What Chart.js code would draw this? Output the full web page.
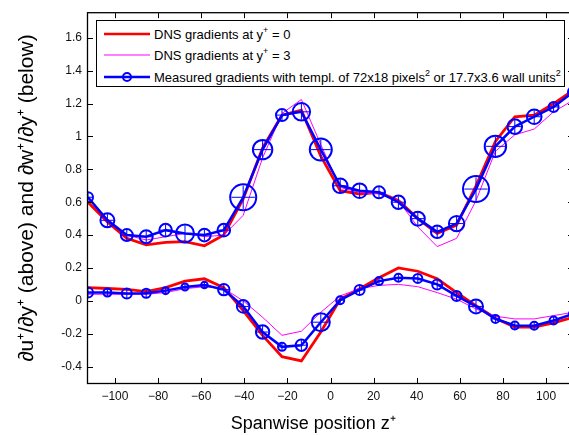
<!DOCTYPE html>
<html>
<head>
<meta charset="utf-8">
<script src="https://cdn.jsdelivr.net/npm/chart.js@4/dist/chart.umd.min.js"></script>
<style>
  html, body { margin: 0; padding: 0; background: #fff; overflow: hidden; }
  #wrap { position: relative; width: 575px; height: 435px; }
  #legend {
    position: absolute; left: 96px; top: 20px; width: 469px; height: 67px;
    border: 1px solid #000; background: #fff; box-sizing: border-box;
    font: 13px "Liberation Sans", Arial, sans-serif; color: #000;
  }
  .row { position: absolute; left: 7px; height: 16px; display: flex; align-items: center; white-space: nowrap; }
  .row svg { margin-right: 4px; }
  sup { font-size: 9px; line-height: 0; vertical-align: 6px; }
</style>
</head>
<body>
<div id="wrap">
  <canvas id="c" width="575" height="435"></canvas>
  <div id="legend">
    <div class="row" style="top:5px"><svg width="46" height="10"><line x1="0" y1="5" x2="46" y2="5" stroke="#ff0000" stroke-width="2.5"/></svg><span>DNS gradients at y<sup>+</sup> = 0</span></div>
    <div class="row" style="top:26px"><svg width="46" height="10"><line x1="0" y1="5" x2="46" y2="5" stroke="#ff00ff" stroke-width="1"/></svg><span>DNS gradients at y<sup>+</sup> = 3</span></div>
    <div class="row" style="top:48px"><svg width="46" height="12"><line x1="0" y1="6" x2="46" y2="6" stroke="#0000ff" stroke-width="2.5"/><circle cx="23" cy="6" r="4" fill="none" stroke="#0000ff" stroke-width="2"/></svg><span>Measured gradients with templ. of 72x18 pixels<sup>2</sup> or 17.7x3.6 wall units<sup>2</sup></span></div>
  </div>
</div>
<script>
// spanwise positions of the interrogation windows
const Z = [-112.5, -103.5, -94.5, -85.5, -76.5, -67.5, -58.5, -49.5, -40.5, -31.5, -22.5, -13.5, -4.5,
    4.5, 13.5, 22.5, 31.5, 40.5, 49.5, 58.5, 67.5, 76.5, 85.5, 94.5, 103.5, 112.5];

// du+/dy+ (upper group)
const DUDY_DNS0 = [0.60, 0.48, 0.38, 0.34, 0.355, 0.36, 0.335, 0.40, 0.62, 0.93, 1.13, 1.16, 0.88,
    0.67, 0.65, 0.66, 0.61, 0.50, 0.41, 0.46, 0.70, 0.97, 1.12, 1.13, 1.20, 1.28];
const DUDY_DNS3 = [0.63, 0.50, 0.40, 0.37, 0.39, 0.41, 0.39, 0.40, 0.52, 0.87, 1.14, 1.225, 0.95,
    0.69, 0.66, 0.65, 0.61, 0.45, 0.33, 0.38, 0.61, 0.91, 1.01, 1.045, 1.15, 1.22];
const DUDY_MEAS = [0.63, 0.49, 0.40, 0.39, 0.43, 0.41, 0.40, 0.43, 0.63, 0.92, 1.13, 1.15, 0.92,
    0.70, 0.67, 0.66, 0.60, 0.50, 0.42, 0.47, 0.68, 0.94, 1.06, 1.12, 1.18, 1.27];
const DUDY_SPREAD = [5, 7, 6, 6.5, 6.3, 9, 6.3, 6.3, 13, 9.7, 6, 8.7, 11,
    7.3, 7.3, 6, 6.7, 7, 6.3, 7.7, 13, 10.7, 7.3, 7.3, 5, 5];

// dw+/dy+ (lower group)
const DWDY_DNS0 = [0.08, 0.075, 0.07, 0.056, 0.08, 0.12, 0.134, 0.08, -0.06, -0.21, -0.34, -0.366, -0.19,
    0.01, 0.074, 0.14, 0.20, 0.18, 0.134, 0.05, -0.03, -0.106, -0.16, -0.16, -0.134, -0.10];
const DWDY_DNS3 = [0.04, 0.04, 0.04, 0.04, 0.05, 0.074, 0.086, 0.075, 0.0, -0.10, -0.21, -0.185, -0.07,
    0.03, 0.074, 0.094, 0.10, 0.086, 0.05, 0.01, -0.05, -0.094, -0.11, -0.11, -0.09, -0.07];
const DWDY_MEAS = [0.05, 0.05, 0.044, 0.046, 0.062, 0.084, 0.096, 0.068, -0.034, -0.19, -0.28, -0.27, -0.13,
    0.004, 0.066, 0.12, 0.14, 0.136, 0.10, 0.03, -0.034, -0.11, -0.15, -0.152, -0.12, -0.08];
const DWDY_SPREAD = [5, 4, 5, 4.5, 3.5, 3.5, 3.3, 5.7, 6.3, 6.7, 4, 5.7, 9,
    4, 5, 4, 4, 4.5, 5, 5, 7, 4, 4, 4, 4, 4];

const X_TICKS = [-100, -80, -60, -40, -20, 0, 20, 40, 60, 80, 100];
const Y_TICKS = [-0.4, -0.2, 0, 0.2, 0.4, 0.6, 0.8, 1, 1.2, 1.4, 1.6];
const X_TITLE = 'Spanwise position z\u207A';

const pts = (ys) => ys.map((y, i) => ({ x: Z[i], y }));

const dnsLine = (data, color, width, order) => ({
    data: pts(data), borderColor: color, borderWidth: width, pointRadius: 0,
    fill: false, tension: 0, order, clip: 0,
});
const measLine = (data, radii) => ({
    data: pts(data), borderColor: '#0000ff', borderWidth: 2.5, pointRadius: radii,
    pointBorderWidth: 2, pointBorderColor: '#0000ff', pointBackgroundColor: 'rgba(0,0,0,0)',
    pointStyle: 'circle', fill: false, tension: 0, order: 1, clip: 0,
});
const measCross = (data, radii) => ({
    data: pts(data), showLine: false, pointStyle: 'cross', pointRadius: radii.map((r) => r * 0.9),
    pointBorderWidth: 1, pointBorderColor: '#0000ff', order: 0, clip: 0,
});

// MATLAB style box with inward ticks, plus the x label (sits a bit left of centre in the original)
const boxPlugin = {
    id: 'box',
    afterDatasetsDraw(chart) {
        const { ctx, chartArea: a, scales } = chart;
        const len = 5;
        ctx.save();
        ctx.strokeStyle = '#000';
        ctx.lineWidth = 1;
        ctx.beginPath();
        X_TICKS.forEach((v) => {
            const x = Math.round(scales.x.getPixelForValue(v)) + 0.5;
            ctx.moveTo(x, a.bottom); ctx.lineTo(x, a.bottom - len);
            ctx.moveTo(x, a.top); ctx.lineTo(x, a.top + len);
        });
        Y_TICKS.forEach((v) => {
            const y = Math.round(scales.y.getPixelForValue(v)) + 0.5;
            ctx.moveTo(a.left, y); ctx.lineTo(a.left + len, y);
            ctx.moveTo(a.right, y); ctx.lineTo(a.right - len, y);
        });
        ctx.stroke();
        ctx.lineWidth = 1.3;
        ctx.strokeRect(a.left - 0.5, a.top - 0.5, a.right - a.left + 1, a.bottom - a.top + 1);

        ctx.fillStyle = '#000';
        ctx.font = '18px "Liberation Sans", Arial, sans-serif';
        ctx.textAlign = 'center';
        ctx.textBaseline = 'alphabetic';
        ctx.fillText(X_TITLE, scales.x.getPixelForValue(-8), 429);
        ctx.restore();
    },
};

const tickFont = { family: '"Liberation Sans", Arial, sans-serif', size: 12 };

new Chart(document.getElementById('c'), {
    type: 'line',
    data: {
        datasets: [
            measCross(DUDY_MEAS, DUDY_SPREAD),
            measCross(DWDY_MEAS, DWDY_SPREAD),
            measLine(DUDY_MEAS, DUDY_SPREAD),
            measLine(DWDY_MEAS, DWDY_SPREAD),
            dnsLine(DUDY_DNS3, '#ff00ff', 1, 2),
            dnsLine(DWDY_DNS3, '#ff00ff', 1, 2),
            dnsLine(DUDY_DNS0, '#ff0000', 2.8, 3),
            dnsLine(DWDY_DNS0, '#ff0000', 2.8, 3),
        ],
    },
    options: {
        responsive: false,
        animation: false,
        layout: { autoPadding: false, padding: { top: 11, right: 2, left: 0, bottom: 0 } },
        plugins: { legend: { display: false }, tooltip: { enabled: false } },
        scales: {
            x: {
                type: 'linear', min: -112.5, max: 112.5,
                grid: { display: false, drawTicks: false }, border: { display: false },
                afterBuildTicks: (s) => { s.ticks = X_TICKS.map((v) => ({ value: v })); },
                afterFit: (s) => { s.height = 52; },
                ticks: {
                    color: '#111', font: tickFont, padding: 6, maxRotation: 0,
                    callback: (v) => (v < 0 ? '\u2212' + Math.abs(v) : String(v)),
                },
                title: { display: false },
            },
            y: {
                type: 'linear', min: -0.5, max: 1.75,
                grid: { display: false, drawTicks: false }, border: { display: false },
                afterBuildTicks: (s) => { s.ticks = Y_TICKS.map((v) => ({ value: v })); },
                afterFit: (s) => { s.width = 88; },
                ticks: {
                    color: '#111', font: tickFont, padding: 6,
                    callback: (v) => String(Math.round(v * 10) / 10),
                },
                title: {
                    display: true, text: '\u2202u\u207A/\u2202y\u207A (above) and \u2202w\u207A/\u2202y\u207A (below)', color: '#000',
                    font: { family: '"Liberation Sans", Arial, sans-serif', size: 21 },
                    padding: { top: 15, bottom: 0 },
                },
            },
        },
    },
    plugins: [boxPlugin],
});
</script>
</body>
</html>
